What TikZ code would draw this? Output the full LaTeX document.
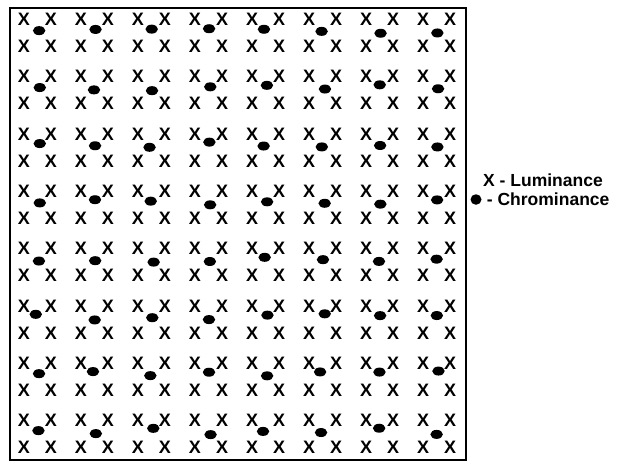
\documentclass[tikz,border=0pt]{standalone}
\usepackage{fontspec}
\setmainfont{Liberation Sans}
\usepackage{tikz}
\usetikzlibrary{positioning,shapes.geometric}

\begin{document}
\begin{tikzpicture}[
  x=1pt, y=-1pt,
  luma/.style={font=\bfseries\fontsize{18}{20}\selectfont, inner sep=0pt},
  chroma/.style={ellipse, fill=black, inner sep=0pt, minimum width=12.5pt, minimum height=9pt},
  frame/.style={draw=black, line width=2pt},
  keytext/.style={font=\bfseries\fontsize{17.5}{20}\selectfont, inner sep=0pt, anchor=west}
]
  \useasboundingbox (0,0) rectangle (618,463);
  \pgfmathsetseed{11}

  \draw[frame] (10,8) rectangle (466,460);

  % luminance samples, chrominance in between
  \foreach \r in {0,...,7} {
    \foreach \c in {0,...,7} {
      \pgfmathsetmacro\xa{24+57*\c}
      \pgfmathsetmacro\ya{19.5+57.3*\r}
      \node[luma] (lu-\r-\c-a) at (\xa,\ya) {X};
      \node[luma] (lu-\r-\c-b) at (\xa+27,\ya) {X};
      \node[luma] (lu-\r-\c-c) at (\xa,\ya+27) {X};
      \node[luma] (lu-\r-\c-d) at (\xa+27,\ya+27) {X};
      \pgfmathsetmacro\dx{13.5+2.5*rand}
      \pgfmathsetmacro\dy{11+3.5*rand}
      \node[chroma] (ch-\r-\c) at (\xa+\dx,\ya+\dy) {};
    }
  }

  % key
  \node[keytext] (lumakey) at (483,180) {X - Luminance};
  \node[chroma, minimum width=11pt, minimum height=10.5pt] (chromadot) at (476,199.5) {};
  \node[keytext, right=5pt of chromadot] (chromakey) {- Chrominance};
\end{tikzpicture}
\end{document}
